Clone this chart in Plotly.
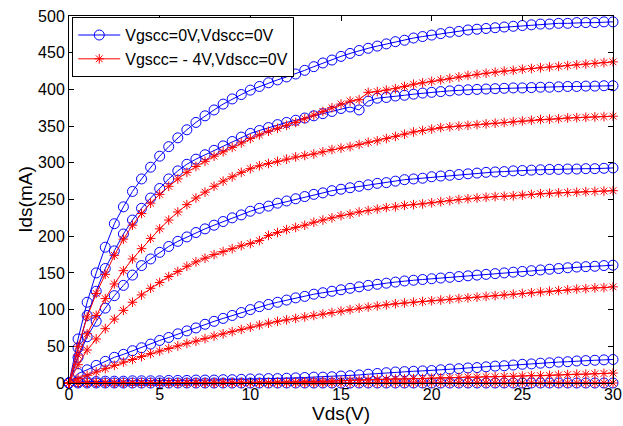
import plotly.graph_objects as go

VDS = [0, 0.5, 1, 1.5, 2, 2.5, 3, 3.5, 4, 4.5,
       5, 5.5, 6, 6.5, 7, 7.5, 8, 8.5, 9, 9.5,
       10, 10.5, 11, 11.5, 12, 12.5, 13, 13.5, 14, 14.5,
       15, 15.5, 16, 16.5, 17, 17.5, 18, 18.5, 19, 19.5,
       20, 20.5, 21, 21.5, 22, 22.5, 23, 23.5, 24, 24.5,
       25, 25.5, 26, 26.5, 27, 27.5, 28, 28.5, 29, 29.5,
       30]

# Blue series: Vgscc=0V, Vdscc=0V (one curve per gate bias)
B1 = [0, 60, 110, 150, 185, 217, 240, 261, 278, 294,
      309, 322, 334, 345, 355, 364, 372, 380, 387, 393,
      399, 404, 409, 413, 417, 421, 426, 431, 436, 440,
      445, 449, 453, 456, 459, 462, 465, 467, 470, 472,
      474, 476, 478, 479, 481, 482, 483, 484, 485, 486,
      487, 488, 489, 489, 490, 490, 491, 491, 491, 492,
      492]
B2 = [0, 48, 92, 125, 156, 180, 203, 222, 238, 252,
      265, 278, 289, 298, 305, 311, 317, 323, 329, 335,
      340, 344, 348, 352, 355, 358, 361, 364, 367, 370,
      374, 376, 372, 384, 388, 389, 391, 392, 393.5, 395,
      396, 397, 398, 399, 399.5, 400, 400.5, 401, 401.5, 402,
      402, 402.5, 403, 403, 403.5, 404, 404, 404.5, 404.5, 405,
      405]
B3 = [0, 35, 63, 84, 102, 119, 133, 147, 160, 169,
      178, 186, 193, 199, 205, 210, 215, 220, 225, 229,
      234, 238, 241, 245, 248, 251, 254, 257, 259, 262,
      264, 266, 268, 270, 272, 273, 275, 277, 278, 279,
      281, 282, 283, 284, 285, 286, 287, 287.5, 288, 289,
      289.5, 290, 290.5, 291, 291, 291.5, 291.5, 292, 292, 292.5,
      293]
B4 = [0, 13, 18, 24, 29.5, 35, 39, 44, 48, 53,
      58, 62, 67, 71, 75, 80, 84, 88, 92, 96,
      100, 104, 107, 110, 113, 116, 118, 121, 123, 125,
      127, 129, 131, 133, 134.5, 136, 137.5, 139, 140, 141,
      142, 143, 144, 145, 146, 147, 148, 149, 150, 151,
      152, 153, 154, 155, 156, 157, 158, 158.5, 159, 160,
      160.5]
B5 = [0, 1.5, 2, 2, 2.5, 2.5, 2.5, 3, 3, 3,
      3, 3.5, 3.5, 3.5, 4, 4, 4, 4.5, 4.5, 5,
      5.5, 5.5, 6, 6, 6.5, 7, 7.5, 8, 8, 8.5,
      9.5, 10, 11, 12, 13, 14, 15, 15.5, 16, 16.5,
      17, 18, 19, 19.5, 20.5, 21, 22, 23, 23.5, 24.5,
      25.5, 26, 27, 27.5, 28.5, 29, 30, 30.5, 31, 31.5,
      32]
B6 = [0, 0, 0, 0, 0, 0, 0, 0, 0, 0,
      0, 0, 0, 0, 0, 0, 0, 0, 0, 0,
      0, 0, 0, 0, 0, 0, 0, 0, 0, 0,
      0, 0, 0, 0, 0, 0, 0, 0, 0, 0,
      0, 0, 0, 0, 0, 0, 0, 0, 0, 0,
      0, 0, 0, 0, 0, 0, 0, 0, 0, 0,
      0]

# Red series: Vgscc=-4V, Vdscc=0V
R1 = [0, 50, 90, 122, 148, 174, 196, 215, 231, 245,
      257, 268, 278, 287, 295, 302, 309, 315, 321, 327,
      333, 338, 343, 347, 351, 355, 360, 365, 370, 375,
      380, 384, 386, 396, 397, 399, 401, 404, 407, 409,
      411, 413, 415, 417, 419, 420.5, 422, 423.5, 425, 426,
      427.5, 428.5, 429.5, 430.5, 431.5, 432.5, 433.5, 434.5, 435.5, 436.5,
      437.5]
R2 = [0, 38, 67, 92, 115, 135, 153, 169, 183, 197,
      210, 222, 233, 243, 252, 260, 268, 275, 281, 287,
      292, 296, 299, 302, 305, 308, 310, 312, 315, 318,
      320, 322, 325, 328, 330, 333, 336, 339, 342, 344,
      346, 348, 349, 350, 351, 352, 353, 354, 355, 356,
      357, 358, 359, 359.5, 360, 361, 361.5, 362, 362.5, 363,
      363.5]
R3 = [0, 25, 45, 60, 74, 87, 99, 110, 120, 129,
      137, 145, 152, 159, 165, 170, 175, 179, 183, 187,
      190, 194, 201, 205, 209, 212, 215, 219, 222, 225,
      228, 230, 233, 235, 237, 239, 240, 242, 243, 244,
      245.5, 247, 248.5, 250, 251, 252, 253, 254, 254.5, 255,
      256, 257, 258, 258.5, 259, 259.5, 260, 260.5, 261, 261.5,
      262]
R4 = [0, 6, 10.5, 15, 19.5, 24, 28.5, 32, 36, 40,
      43.5, 47, 50.5, 54, 57, 60.5, 64, 67, 70, 73,
      76, 79, 81.5, 84, 86, 88, 90, 92, 94, 96,
      98, 100, 102, 103.5, 105, 106.5, 108, 109, 110, 111,
      112, 113, 114, 115, 116, 117, 118, 119, 120, 121,
      122, 123, 124, 125, 126, 127, 128, 128.5, 129.5, 130,
      131]
R5 = [0, 0.5, 0.5, 0.5, 0.5, 0.5, 0.5, 0.5, 0.5, 0.5,
      0.5, 0.5, 0.5, 0.5, 0.5, 0.5, 0.5, 0.5, 0.5, 0.5,
      0.5, 0.5, 0.5, 1, 1, 1, 1.5, 2, 2, 2.5,
      3, 3.5, 4, 4.5, 5, 5, 5.5, 5.5, 6, 6,
      6.5, 7, 7, 7.5, 8, 8, 8.5, 8.5, 9, 9,
      9.5, 10, 10, 10.5, 11, 11.5, 12, 12, 12.5, 13,
      13.5]
R6 = [0, 0, 0, 0, 0, 0, 0, 0, 0, 0,
      0, 0, 0, 0, 0, 0, 0, 0, 0, 0,
      0, 0, 0, 0, 0, 0, 0, 0, 0, 0,
      0, 0, 0, 0, 0, 0, 0, 0, 0, 0,
      0, 0, 0, 0, 0, 0, 0, 0, 0, 0,
      0, 0, 0, 0, 0, 0, 0, 0, 0, 0,
      0]

BLUE_CURVES = [B1, B2, B3, B4, B5, B6]
RED_CURVES = [R1, R2, R3, R4, R5, R6]
LEGEND_NAMES = ["Vgscc=0V,Vdscc=0V", "Vgscc= - 4V,Vdscc=0V"]
X_TICKS = [0, 5, 10, 15, 20, 25, 30]
Y_TICKS = [0, 50, 100, 150, 200, 250, 300, 350, 400, 450, 500]

BLUE = "#0000ff"
RED = "#ff0000"
FONT = "Liberation Sans, Arial, sans-serif"

fig = go.Figure()

for i, ys in enumerate(BLUE_CURVES):
    fig.add_trace(go.Scatter(
        x=VDS, y=ys, mode="lines+markers", name=LEGEND_NAMES[0],
        showlegend=(i == 0), legendrank=1, cliponaxis=False,
        line=dict(color=BLUE, width=1),
        marker=dict(symbol="circle-open", size=10, color=BLUE, line=dict(width=1, color=BLUE)),
    ))
for i, ys in enumerate(RED_CURVES):
    fig.add_trace(go.Scatter(
        x=VDS, y=ys, mode="lines+markers", name=LEGEND_NAMES[1],
        showlegend=(i == 0), legendrank=2, cliponaxis=False,
        line=dict(color=RED, width=1),
        marker=dict(symbol="asterisk-open", size=8, color=RED, line=dict(width=1, color=RED)),
    ))

axis_common = dict(
    showline=True, linecolor="black", linewidth=1, mirror="ticks",
    ticks="inside", ticklen=5, tickcolor="black", tickwidth=1,
    showgrid=False, zeroline=False, automargin=False,
    tickfont=dict(family=FONT, size=16, color="black"),
)

fig.update_layout(
    width=623, height=426,
    margin=dict(l=69, r=10, t=16, b=43),
    paper_bgcolor="white", plot_bgcolor="white",
    font=dict(family=FONT, color="black"),
    xaxis=dict(range=[0, 30], tickvals=X_TICKS, ticklabelstandoff=-3,
               title=dict(text="Vds(V)", font=dict(family=FONT, size=19), standoff=2),
               **axis_common),
    yaxis=dict(range=[0, 500], tickvals=Y_TICKS,
               title=dict(text="Ids(mA)", font=dict(family=FONT, size=19), standoff=0),
               **axis_common),
    legend=dict(x=0.006, y=0.997, xanchor="left", yanchor="top",
                bgcolor="white", bordercolor="black", borderwidth=1,
                font=dict(family=FONT, size=16, color="black"),
                itemwidth=42, tracegroupgap=0),
    showlegend=True,
)

fig.write_html("out.html")
